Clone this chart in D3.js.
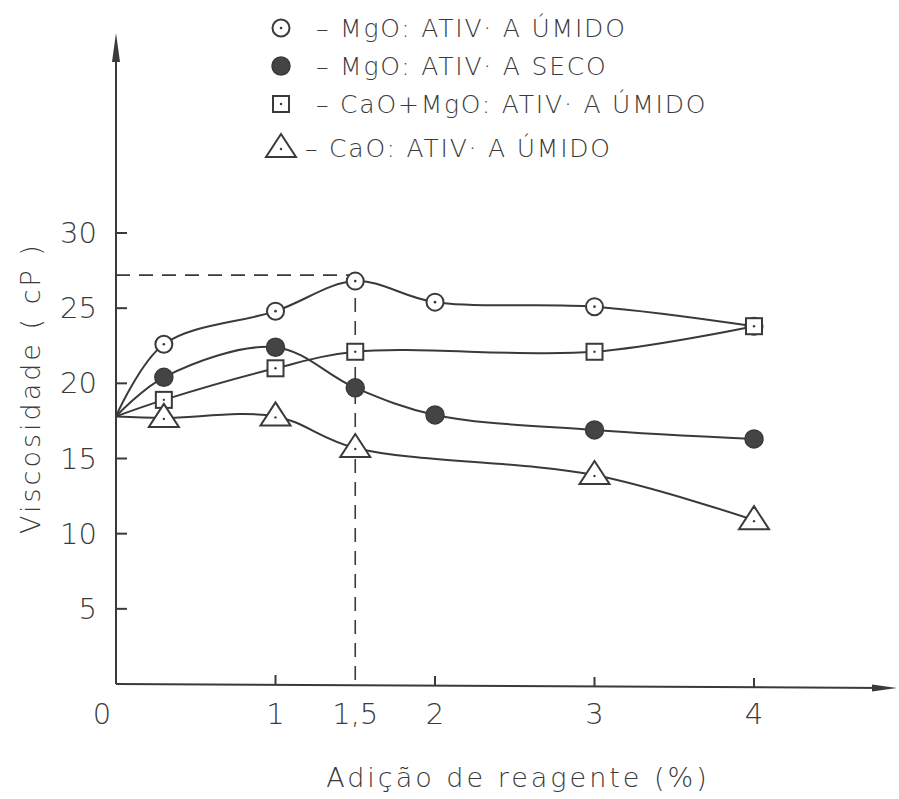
<!DOCTYPE html>
<meta charset="utf-8">
<style>
  body { margin: 0; background: #fff; }
  svg { font-family: "DejaVu Sans", "Lato", sans-serif; font-weight: 200; }
  .tick-label { font-size: 29px; fill: #3a3a3a; }
  .axis-title { font-size: 27px; fill: #3a3a3a; letter-spacing: 3px; }
  .legend-text { font-size: 25px; fill: #3a3a3a; letter-spacing: 1.8px; }
  .axis-line { stroke: #3a3a3a; stroke-width: 2; fill: none; }
  .series-path { stroke: #3a3a3a; stroke-width: 2; fill: none; }
  .ref-line { stroke: #3a3a3a; stroke-width: 1.6; stroke-dasharray: 14 9; fill: none; }
</style>
<body>
<script src="https://d3js.org/d3.v7.min.js"></script>
<script>

// data
var xMgOUmido = [0, 0.3, 1, 1.5, 2, 3, 4];
var yMgOUmido = [17.8, 22.6, 24.8, 26.8, 25.4, 25.1, 23.8];

var xMgOSeco = [0, 0.3, 1, 1.5, 2, 3, 4];
var yMgOSeco = [17.8, 20.4, 22.4, 19.7, 17.9, 16.9, 16.3];

var xCaOMgO = [0, 0.3, 1, 1.5, 3, 4];
var yCaOMgO = [17.8, 18.9, 21.0, 22.1, 22.1, 23.8];

var xCaO = [0, 0.3, 1, 1.5, 3, 4];
var yCaO = [17.8, 17.7, 17.8, 15.7, 13.9, 10.9];

var xTicks = [0, 1, 1.5, 2, 3, 4];
var xTickLabels = ["0", "1", "1,5", "2", "3", "4"];
var yTicks = [5, 10, 15, 20, 25, 30];

var refX = 1.5, refY = 27.2;

var legendLabels = [
  "– MgO: ATIV· A ÚMIDO",
  "– MgO: ATIV· A SECO",
  "– CaO+MgO: ATIV· A ÚMIDO",
  "– CaO: ATIV· A ÚMIDO"
];
var legendMarks = ["circle", "filled", "square", "triangle"];

var W = 899, H = 799;

var x = d3.scaleLinear().domain([0, 4]).range([116, 754]);
var y = d3.scaleLinear().domain([0, 30]).range([684, 233]);

var svg = d3.select("body").append("svg")
  .attr("width", W)
  .attr("height", H);

// axes lines with arrows
svg.append("line").attr("class", "axis-line")
  .attr("x1", x(0)).attr("y1", y(0)).attr("x2", x(0)).attr("y2", 40);
svg.append("path")
  .attr("d", "M" + x(0) + ",33 L" + (x(0) - 4) + ",62 L" + (x(0) + 4) + ",62 Z")
  .attr("fill", "#3a3a3a");

svg.append("line").attr("class", "axis-line")
  .attr("x1", x(0)).attr("y1", y(0)).attr("x2", 885).attr("y2", y(0) + 4);
svg.append("path")
  .attr("d", "M897," + (y(0) + 4) + " L872," + (y(0) + 0.5) + " L872," + (y(0) + 7.5) + " Z")
  .attr("fill", "#3a3a3a");

// y ticks (drawn inside)
svg.selectAll(".ytick").data(yTicks).enter().append("line")
  .attr("class", "axis-line")
  .attr("x1", x(0)).attr("x2", x(0) + 11)
  .attr("y1", function(d) { return y(d); })
  .attr("y2", function(d) { return y(d); });

svg.selectAll(".ylab").data(yTicks).enter().append("text")
  .attr("class", "tick-label")
  .attr("x", 97)
  .attr("y", function(d) { return y(d) + 10; })
  .attr("text-anchor", "end")
  .text(function(d) { return d; });

// x ticks
var xtickData = xTicks.filter(function(d) { return d > 0 && d !== refX; });
svg.selectAll(".xtick").data(xtickData).enter().append("line")
  .attr("class", "axis-line")
  .attr("x1", function(d) { return x(d); })
  .attr("x2", function(d) { return x(d); })
  .attr("y1", function(d) { return y(0) + d - 10; })
  .attr("y2", function(d) { return y(0) + d; });

svg.selectAll(".xlab").data(xTicks).enter().append("text")
  .attr("class", "tick-label")
  .attr("x", function(d) { return d === 0 ? x(d) - 14 : x(d); })
  .attr("y", 724)
  .attr("text-anchor", "middle")
  .text(function(d, i) { return xTickLabels[i]; });

// axis titles
svg.append("text").attr("class", "axis-title")
  .attr("x", 518).attr("y", 787)
  .attr("text-anchor", "middle")
  .text("Adição de reagente (%)");

svg.append("text").attr("class", "axis-title")
  .attr("transform", "translate(40,388) rotate(-90)")
  .attr("text-anchor", "middle")
  .text("Viscosidade ( cP )");

// dashed reference lines
svg.append("path").attr("class", "ref-line")
  .attr("d", "M" + x(0) + "," + y(refY) + " H" + x(refX));
svg.append("path").attr("class", "ref-line")
  .attr("d", "M" + x(refX) + "," + y(refY) + " V" + y(0));

// series
var series = [
  { xs: xMgOUmido, ys: yMgOUmido, mark: "circle" },
  { xs: xMgOSeco, ys: yMgOSeco, mark: "filled" },
  { xs: xCaOMgO, ys: yCaOMgO, mark: "square" },
  { xs: xCaO, ys: yCaO, mark: "triangle" }
];

var line = d3.line()
  .x(function(d) { return x(d[0]); })
  .y(function(d) { return y(d[1]); })
  .curve(d3.curveCatmullRom.alpha(0.5));

series.forEach(function(s) {
  var pts = s.xs.map(function(v, i) { return [v, s.ys[i]]; });
  svg.append("path").attr("class", "series-path").attr("d", line(pts));
});

function drawMark(g, kind) {
  if (kind === "circle") {
    g.append("circle").attr("r", 8.5).attr("fill", "#fff").attr("stroke", "#3a3a3a").attr("stroke-width", 2);
    g.append("circle").attr("r", 1.3).attr("fill", "#3a3a3a");
  } else if (kind === "filled") {
    g.append("circle").attr("r", 9).attr("fill", "#444").attr("stroke", "#3a3a3a").attr("stroke-width", 1.5);
  } else if (kind === "square") {
    g.append("rect").attr("x", -8).attr("y", -8).attr("width", 16).attr("height", 16)
      .attr("fill", "#fff").attr("stroke", "#3a3a3a").attr("stroke-width", 2);
    g.append("circle").attr("r", 1.2).attr("fill", "#3a3a3a");
  } else {
    g.append("path").attr("d", "M0,-14 L15,9 L-15,9 Z")
      .attr("fill", "#fff").attr("stroke", "#3a3a3a").attr("stroke-width", 2);
    g.append("circle").attr("cy", 1).attr("r", 1.2).attr("fill", "#3a3a3a");
  }
}

series.forEach(function(s) {
  s.xs.forEach(function(v, i) {
    if (v === 0) return;
    var g = svg.append("g").attr("transform", "translate(" + x(v) + "," + y(s.ys[i]) + ")");
    drawMark(g, s.mark);
  });
});

// legend
var legendY = [28, 66, 104, 148];
legendLabels.forEach(function(lab, i) {
  var g = svg.append("g").attr("transform", "translate(281," + legendY[i] + ")");
  drawMark(g, legendMarks[i]);
  svg.append("text").attr("class", "legend-text")
    .attr("x", legendMarks[i] === "triangle" ? 305 : 316)
    .attr("y", legendY[i] + 9)
    .text(lab);
});

</script>
</body>
